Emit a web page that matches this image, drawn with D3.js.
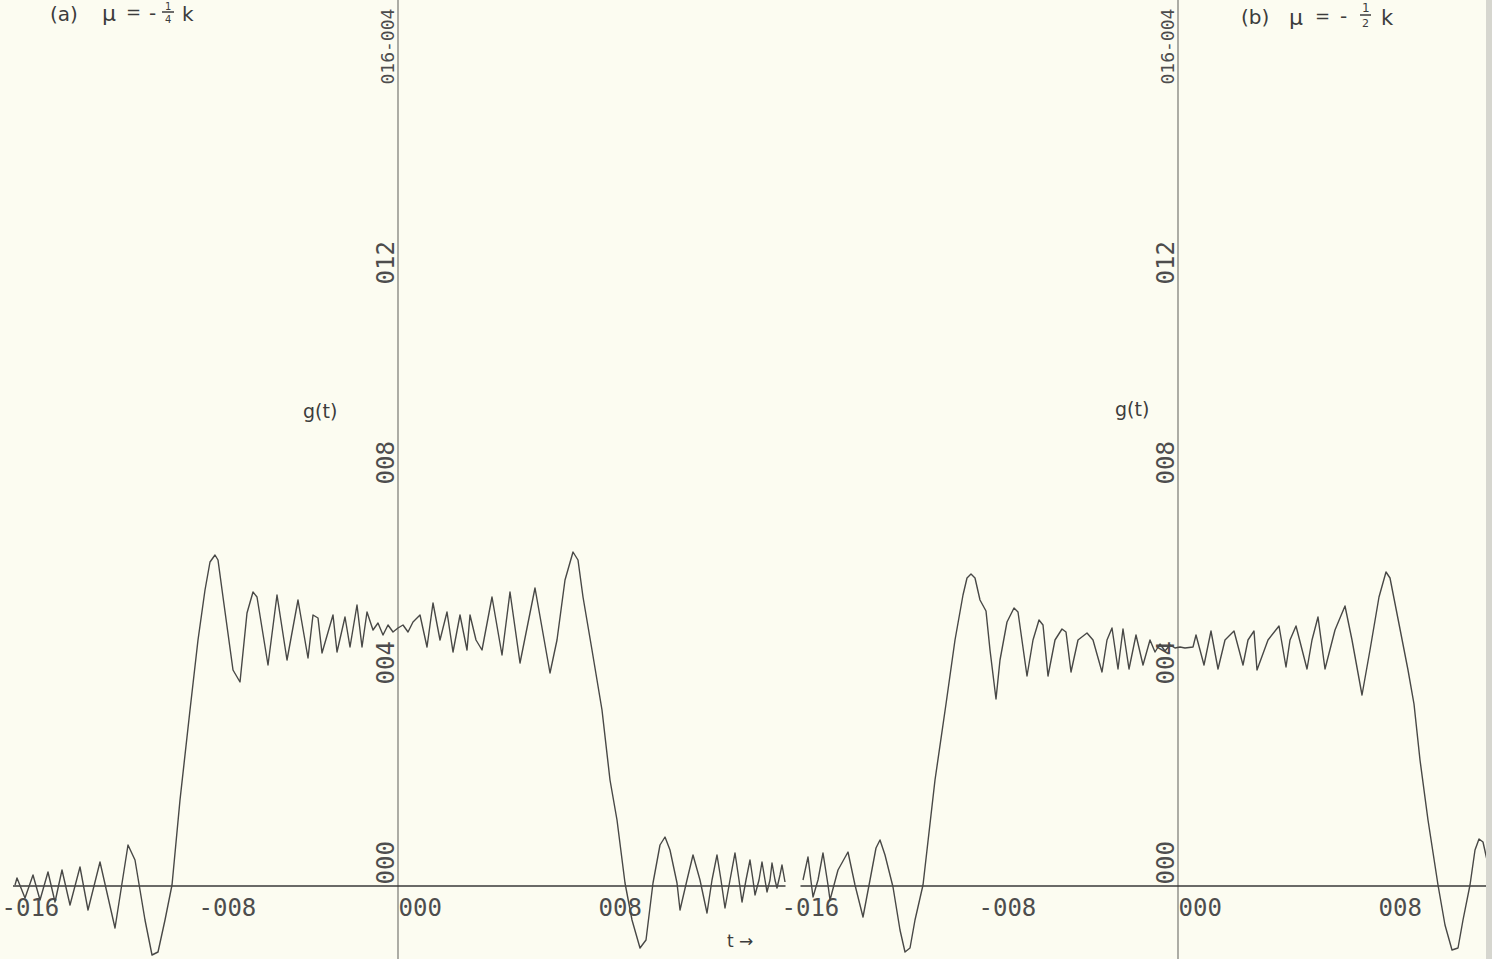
<!DOCTYPE html>
<html>
<head>
<meta charset="utf-8">
<script src="https://cdn.jsdelivr.net/npm/d3@7"></script>
<style>
  body{margin:0;background:#fcfcf1;overflow:hidden}
  svg{display:block}
  .tick text{font-family:"DejaVu Sans Mono",monospace;font-size:24px;fill:#4d4d4d}
  .hand{font-family:"DejaVu Sans",sans-serif;fill:#3c3c3c}
</style>
</head>
<body>
<div id="container"></div>
<script>
// tick values and their printed labels (same for both panels)
const xTicks=[-16,-8,0,8];
const xTickLabels=["-016","-008","000","008"];
const yTicks=[0,4,8,12,16];
const yTickLabels=["000","004","008","012","016-004"];

// (a) mu = -k/4 : [t, g(t)]
const curveA=[
 [-15.32,0.02],[-15.24,0.16],[-14.92,-0.24],[-14.60,0.22],[-14.32,-0.28],[-14.00,0.28],
 [-13.72,-0.32],[-13.44,0.32],[-13.12,-0.38],[-12.72,0.38],[-12.40,-0.48],[-11.92,0.48],
 [-11.32,-0.84],[-10.80,0.82],[-10.52,0.52],[-10.12,-0.68],[-9.84,-1.38],[-9.60,-1.32],
 [-9.32,-0.68],[-9.04,0.02],[-8.72,1.72],[-8.32,3.52],[-8.00,4.92],[-7.72,5.92],
 [-7.52,6.48],[-7.32,6.62],[-7.20,6.52],[-7.00,5.78],[-6.60,4.32],[-6.32,4.08],
 [-6.04,5.46],[-5.80,5.88],[-5.64,5.78],[-5.20,4.42],[-4.84,5.82],[-4.44,4.52],
 [-4.00,5.72],[-3.60,4.56],[-3.40,5.42],[-3.20,5.36],[-3.04,4.66],[-2.60,5.42],
 [-2.44,4.68],[-2.12,5.38],[-1.92,4.78],[-1.64,5.62],[-1.44,4.78],[-1.24,5.48],
 [-1.00,5.12],[-0.80,5.26],[-0.60,5.02],[-0.40,5.22],[-0.20,5.08],[0.00,5.16],
 [0.20,5.22],[0.40,5.08],[0.60,5.28],[0.88,5.42],[1.16,4.78],[1.40,5.66],
 [1.68,4.92],[1.96,5.48],[2.20,4.68],[2.48,5.42],[2.76,4.72],[2.88,5.42],
 [3.12,4.92],[3.36,4.72],[3.76,5.78],[4.16,4.62],[4.48,5.88],[4.88,4.46],
 [5.48,5.96],[6.08,4.26],[6.36,4.92],[6.68,6.12],[7.00,6.68],[7.20,6.52],
 [7.40,5.78],[7.76,4.72],[8.16,3.52],[8.48,2.12],[8.76,1.32],[9.08,0.06],
 [9.36,-0.68],[9.68,-1.24],[9.92,-1.08],[10.20,0.06],[10.48,0.82],[10.68,0.98],
 [10.88,0.72],[11.16,0.06],[11.28,-0.48],[11.56,0.12],[11.80,0.62],[12.08,0.12],
 [12.36,-0.54],[12.56,0.12],[12.76,0.62],[12.92,0.12],[13.08,-0.44],[13.28,0.12],
 [13.48,0.66],[13.64,0.12],[13.76,-0.32],[13.92,0.12],[14.08,0.52],[14.20,0.12],
 [14.28,-0.18],[14.44,0.12],[14.56,0.48],[14.68,0.12],[14.76,-0.12],[14.88,0.12],
 [14.96,0.46],[15.08,0.12],[15.16,-0.04],[15.28,0.22],[15.36,0.42],[15.48,0.08]
];

// (b) mu = -k/2
const curveB=[
 [-15.00,0.12],[-14.80,0.58],[-14.60,-0.22],[-14.40,0.12],[-14.20,0.66],[-14.00,0.02],
 [-13.92,-0.28],[-13.60,0.32],[-13.20,0.68],[-12.92,0.02],[-12.60,-0.62],[-12.32,0.12],
 [-12.08,0.76],[-11.92,0.92],[-11.72,0.62],[-11.40,-0.02],[-11.12,-0.88],[-10.92,-1.32],
 [-10.72,-1.24],[-10.52,-0.68],[-10.20,0.02],[-9.72,2.12],[-9.28,3.64],[-8.92,4.92],
 [-8.60,5.82],[-8.44,6.16],[-8.28,6.24],[-8.12,6.16],[-7.92,5.72],[-7.68,5.50],
 [-7.52,4.72],[-7.28,3.74],[-7.12,4.52],[-6.84,5.28],[-6.56,5.56],[-6.40,5.48],
 [-6.04,4.20],[-5.80,4.92],[-5.56,5.32],[-5.40,5.22],[-5.20,4.20],[-4.92,4.92],
 [-4.64,5.14],[-4.48,5.08],[-4.28,4.28],[-4.00,4.92],[-3.64,5.06],[-3.40,4.92],
 [-3.04,4.28],[-2.84,4.92],[-2.64,5.16],[-2.40,4.34],[-2.20,5.14],[-1.96,4.34],
 [-1.68,5.02],[-1.40,4.42],[-1.12,4.92],[-0.92,4.68],[-0.72,4.84],[-0.52,4.70],
 [-0.32,4.82],[-0.12,4.76],[0.08,4.78],[0.28,4.76],[0.60,4.78],[0.72,5.02],
 [1.04,4.42],[1.32,5.10],[1.60,4.34],[1.88,4.92],[2.24,5.10],[2.60,4.42],
 [2.80,4.92],[3.04,5.10],[3.16,4.32],[3.60,4.92],[4.04,5.20],[4.32,4.38],
 [4.48,4.92],[4.72,5.20],[5.16,4.34],[5.36,4.92],[5.60,5.38],[5.88,4.34],
 [6.28,5.12],[6.68,5.60],[6.96,4.92],[7.36,3.82],[7.68,4.72],[8.04,5.78],
 [8.32,6.28],[8.48,6.16],[8.88,5.14],[9.20,4.32],[9.44,3.64],[9.68,2.52],
 [10.00,1.32],[10.40,0.02],[10.68,-0.78],[10.96,-1.28],[11.20,-1.24],[11.40,-0.68],
 [11.68,0.02],[11.88,0.72],[12.04,0.94],[12.20,0.88],[12.36,0.52],[12.48,0.22]
];

const width=1492;
const height=959;

const svg=d3.select('#container')
  .append('svg')
  .attr('width',width)
  .attr('height',height);

const yScale=d3.scaleLinear().domain([-1.46,17.72]).range([height,0]);
const xA=d3.scaleLinear().domain([-16,16]).range([-2,798]);
const xB=d3.scaleLinear().domain([-16,12.48]).range([778,1490]);

function drawPanel(xScale,data,axisFrom,axisTo){
  const g=svg.append('g');

  // vertical axis runs the full height of the sheet
  g.append('line')
    .attr('x1',xScale(0)).attr('x2',xScale(0))
    .attr('y1',0).attr('y2',height)
    .attr('stroke','#6b6b66').attr('stroke-width',1.1);

  g.append('line')
    .attr('x1',xScale(axisFrom)).attr('x2',xScale(axisTo))
    .attr('y1',yScale(0)).attr('y2',yScale(0))
    .attr('stroke','#3a3a38').attr('stroke-width',1.6);

  const xAxis=d3.axisBottom(xScale)
    .tickValues(xTicks)
    .tickSize(0)
    .tickFormat((d,i)=>xTickLabels[i]);

  g.append('g')
    .attr('transform',`translate(0,${yScale(0)})`)
    .call(xAxis)
    .call(a=>a.select('.domain').remove())
    .selectAll('text')
    .attr('text-anchor','start')
    .attr('x',(d,i)=>i===0 ? 3 : 0)
    .attr('y',30)
    .attr('dy',0);

  const yAxis=d3.axisLeft(yScale)
    .tickValues(yTicks)
    .tickSize(0)
    .tickFormat((d,i)=>yTickLabels[i]);

  const yText=g.append('g')
    .attr('transform',`translate(${xScale(0)},0)`)
    .call(yAxis)
    .call(a=>a.select('.domain').remove())
    .selectAll('text')
    .attr('transform','rotate(-90)')
    .attr('text-anchor','start')
    .attr('x',2)
    .attr('y',-4)
    .attr('dy',0);

  // the long top label has to fit between its tick and the sheet edge
  yText.filter((d,i)=>yTickLabels[i].length>3)
    .style('font-size','18px');

  const line=d3.line()
    .x(d=>xScale(d[0]))
    .y(d=>yScale(d[1]));

  g.append('path')
    .datum(data)
    .attr('d',line)
    .attr('fill','none')
    .attr('stroke','#484846')
    .attr('stroke-width',1.4)
    .attr('stroke-linejoin','round');
}

drawPanel(xA,curveA,-15.4,15.5);
drawPanel(xB,curveB,-15.1,12.48);

// handwritten annotations
function hand(x,y,txt,size){
  svg.append('text').attr('class','hand')
    .attr('x',x).attr('y',y)
    .attr('font-size',size)
    .text(txt);
}

hand(50,21,'(a)',20);
hand(102,21,'μ',22);
hand(126,18,'=',18);
hand(149,20,'-',20);
hand(165,10,'1',10);
svg.append('line').attr('x1',162).attr('x2',174).attr('y1',12).attr('y2',12)
  .attr('stroke','#3c3c3c').attr('stroke-width',1.5);
hand(165,23,'4',10);
hand(182,21,'k',20);

hand(1241,24,'(b)',20);
hand(1289,25,'μ',22);
hand(1315,22,'=',18);
hand(1340,23,'-',20);
hand(1362,12,'1',12);
svg.append('line').attr('x1',1360).attr('x2',1371).attr('y1',15).attr('y2',15)
  .attr('stroke','#3c3c3c').attr('stroke-width',1.5);
hand(1362,27,'2',11);
hand(1381,25,'k',21);

hand(303,418,'g(t)',19);
hand(1115,416,'g(t)',19);
hand(727,947,'t →',17);

// shadow of the page edge
svg.append('rect')
  .attr('x',1486).attr('y',0)
  .attr('width',6).attr('height',height)
  .attr('fill','#d6d6cf');
</script>
</body>
</html>
